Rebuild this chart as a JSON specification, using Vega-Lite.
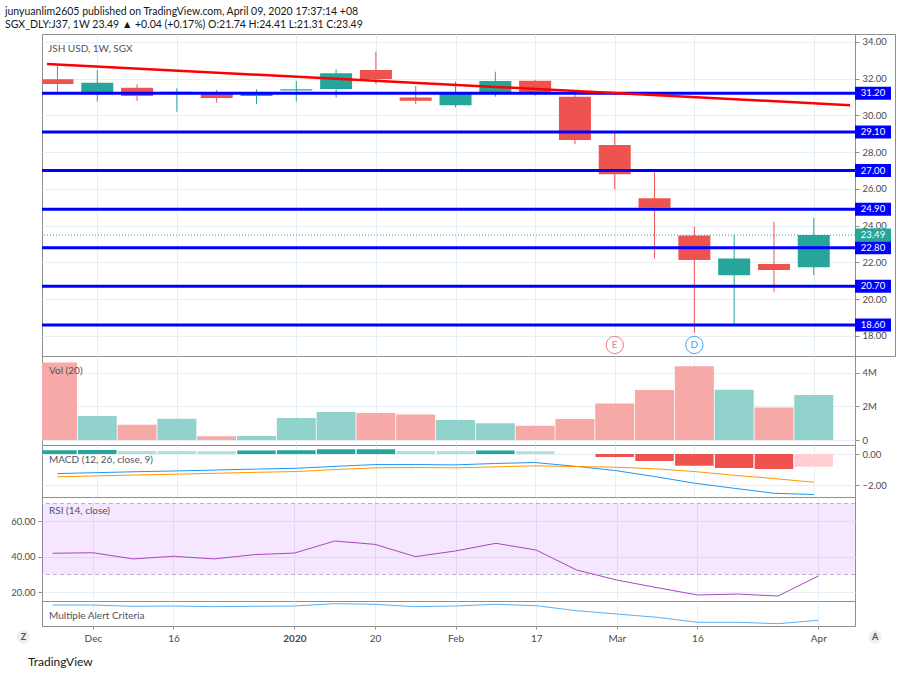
{
  "$schema": "https://vega.github.io/schema/vega-lite/v6.json",
  "padding": {"left": 5, "top": 6, "right": 5, "bottom": 0},
  "background": "white",
  "title": {
    "text": "junyuanlim2605 published on TradingView.com, April 09, 2020 17:37:14 +08",
    "subtitle": "SGX_DLY:J37, 1W 23.49 ▲ +0.04 (+0.17%) O:21.74 H:24.41 L:21.31 C:23.49",
    "anchor": "start",
    "frame": "bounds",
    "font": "Lato",
    "fontSize": 10.5,
    "fontWeight": "normal",
    "color": "#131722",
    "subtitleFont": "Lato",
    "subtitleFontSize": 10.5,
    "subtitleColor": "#131722",
    "subtitlePadding": 3,
    "offset": 3
  },
  "datasets": {
    "weekly": [
      {"date": "2019-11-25", "open": 31.97, "high": 32.75, "low": 31.28, "close": 31.71, "volume": 4600000, "macd": -1.26, "signal": -1.47, "hist": 0.24, "rsi": 42.0, "alert": 21.0},
      {"date": "2019-12-02", "open": 31.15, "high": 32.47, "low": 30.75, "close": 31.78, "volume": 1430000, "macd": -1.20, "signal": -1.41, "hist": 0.25, "rsi": 42.3, "alert": 21.0},
      {"date": "2019-12-09", "open": 31.51, "high": 31.70, "low": 30.79, "close": 31.06, "volume": 900000, "macd": -1.14, "signal": -1.35, "hist": 0.20, "rsi": 38.8, "alert": 19.7},
      {"date": "2019-12-16", "open": 31.21, "high": 31.48, "low": 30.20, "close": 31.29, "volume": 1270000, "macd": -1.09, "signal": -1.30, "hist": 0.19, "rsi": 40.3, "alert": 20.0},
      {"date": "2019-12-23", "open": 31.28, "high": 31.39, "low": 30.69, "close": 30.95, "volume": 220000, "macd": -1.03, "signal": -1.24, "hist": 0.18, "rsi": 38.8, "alert": 19.3},
      {"date": "2019-12-30", "open": 31.06, "high": 31.42, "low": 30.62, "close": 31.28, "volume": 240000, "macd": -0.97, "signal": -1.18, "hist": 0.22, "rsi": 41.2, "alert": 19.7},
      {"date": "2020-01-06", "open": 31.35, "high": 31.87, "low": 30.75, "close": 31.42, "volume": 1310000, "macd": -0.92, "signal": -1.13, "hist": 0.24, "rsi": 42.1, "alert": 20.0},
      {"date": "2020-01-13", "open": 31.44, "high": 32.51, "low": 30.97, "close": 32.29, "volume": 1670000, "macd": -0.79, "signal": -1.00, "hist": 0.30, "rsi": 48.9, "alert": 22.3},
      {"date": "2020-01-20", "open": 32.47, "high": 33.47, "low": 31.71, "close": 31.98, "volume": 1610000, "macd": -0.68, "signal": -0.89, "hist": 0.31, "rsi": 47.0, "alert": 21.7},
      {"date": "2020-01-27", "open": 30.97, "high": 31.60, "low": 30.62, "close": 30.80, "volume": 1510000, "macd": -0.68, "signal": -0.87, "hist": 0.20, "rsi": 40.1, "alert": 19.3},
      {"date": "2020-02-03", "open": 30.55, "high": 31.84, "low": 30.44, "close": 31.26, "volume": 1190000, "macd": -0.70, "signal": -0.89, "hist": 0.19, "rsi": 43.3, "alert": 20.0},
      {"date": "2020-02-10", "open": 31.21, "high": 32.38, "low": 31.02, "close": 31.87, "volume": 1000000, "macd": -0.61, "signal": -0.83, "hist": 0.23, "rsi": 47.6, "alert": 21.7},
      {"date": "2020-02-17", "open": 31.89, "high": 31.93, "low": 31.08, "close": 31.24, "volume": 850000, "macd": -0.55, "signal": -0.76, "hist": 0.18, "rsi": 43.8, "alert": 20.3},
      {"date": "2020-02-24", "open": 31.02, "high": 31.29, "low": 28.43, "close": 28.66, "volume": 1250000, "macd": -0.79, "signal": -0.81, "hist": 0.0, "rsi": 32.6, "alert": 15.3},
      {"date": "2020-03-02", "open": 28.39, "high": 29.06, "low": 25.98, "close": 26.80, "volume": 2170000, "macd": -1.06, "signal": -0.85, "hist": -0.19, "rsi": 26.9, "alert": 12.0},
      {"date": "2020-03-09", "open": 25.49, "high": 26.91, "low": 22.21, "close": 24.98, "volume": 2970000, "macd": -1.45, "signal": -0.95, "hist": -0.45, "rsi": 22.6, "alert": 8.7},
      {"date": "2020-03-16", "open": 23.46, "high": 23.95, "low": 18.16, "close": 22.14, "volume": 4380000, "macd": -1.88, "signal": -1.13, "hist": -0.75, "rsi": 18.5, "alert": 3.7},
      {"date": "2020-03-23", "open": 21.30, "high": 23.50, "low": 18.55, "close": 22.21, "volume": 2980000, "macd": -2.21, "signal": -1.37, "hist": -0.90, "rsi": 19.0, "alert": 3.7},
      {"date": "2020-03-30", "open": 21.92, "high": 24.22, "low": 20.41, "close": 21.59, "volume": 1930000, "macd": -2.53, "signal": -1.58, "hist": -0.97, "rsi": 17.9, "alert": 2.3},
      {"date": "2020-04-06", "open": 21.74, "high": 24.41, "low": 21.31, "close": 23.49, "volume": 2670000, "macd": -2.61, "signal": -1.82, "hist": -0.82, "rsi": 29.2, "alert": 5.7}
    ],
    "levels": [
      {"price": 31.2, "kind": "level"},
      {"price": 29.1, "kind": "level"},
      {"price": 27.0, "kind": "level"},
      {"price": 24.9, "kind": "level"},
      {"price": 22.8, "kind": "level"},
      {"price": 20.7, "kind": "level"},
      {"price": 18.6, "kind": "level"},
      {"price": 23.49, "kind": "last"}
    ],
    "trend": [
      {"date": "2019-11-23T03:50:00Z", "price": 32.8},
      {"date": "2020-04-12T08:53:00Z", "price": 30.56}
    ],
    "events": [
      {"date": "2020-03-02", "event": "E"},
      {"date": "2020-03-16", "event": "D"}
    ],
    "rsiBand": [{"upper": 70, "lower": 30}],
    "rsiLines": [{"level": 70}, {"level": 30}]
  },
  "columns": 3,
  "spacing": 0,
  "bounds": "flush",
  "concat": [
    {"width": 37, "height": 322, "data": {"values": [{}]}, "mark": "text", "encoding": {"text": {"value": ""}}},
    {
      "width": 813, "height": 322,
      "title": {"text": "JSH USD, 1W, SGX", "anchor": "start", "frame": "group", "offset": -28, "dx": 6, "fontSize": 10, "fontWeight": "normal", "color": "#50535e", "baseline": "alphabetic"},
      "layer": [
        {
          "data": {"name": "weekly"},
          "mark": {"type": "rule", "clip": true, "strokeWidth": 1},
          "encoding": {
            "x": {"field": "date", "type": "temporal",
              "scale": {"type": "utc", "domain": [{"year": 2019, "month": 11, "date": 23, "hours": 3, "minutes": 50, "utc": true}, {"year": 2020, "month": 4, "date": 12, "hours": 8, "minutes": 53, "utc": true}]},
              "axis": {"values": [{"year": 2019, "month": 12, "date": 2, "utc": true}, {"year": 2019, "month": 12, "date": 16, "utc": true}, {"year": 2020, "month": 1, "date": 6, "utc": true}, {"year": 2020, "month": 1, "date": 20, "utc": true}, {"year": 2020, "month": 2, "date": 3, "utc": true}, {"year": 2020, "month": 2, "date": 17, "utc": true}, {"year": 2020, "month": 3, "date": 2, "utc": true}, {"year": 2020, "month": 3, "date": 16, "utc": true}, {"year": 2020, "month": 4, "date": 6, "utc": true}], "labels": false, "ticks": false, "domain": false, "grid": true, "title": null}},
            "y": {"field": "low", "type": "quantitative", "scale": {"domain": [16.91, 34.43], "nice": false, "zero": false},
              "axis": {"orient": "right", "values": [18, 20, 22, 24, 26, 28, 30, 32, 34], "format": ".2f", "grid": true, "ticks": true, "tickSize": 4, "labelPadding": 3, "domain": false, "title": null}},
            "y2": {"field": "high"},
            "color": {"condition": {"test": "datum.close >= datum.open", "value": "#26a69a"}, "value": "#ef5350"}
          }
        },
        {
          "data": {"name": "levels"},
          "transform": [{"filter": "datum.kind == 'last'"}],
          "mark": {"type": "rule", "strokeDash": [1, 2], "strokeWidth": 1, "color": "#26a69a"},
          "encoding": {"y": {"field": "price", "type": "quantitative", "scale": {"domain": [16.91, 34.43], "nice": false, "zero": false}}}
        },
        {
          "data": {"name": "weekly"},
          "mark": {"type": "bar", "width": 32, "clip": true},
          "encoding": {
            "x": {"field": "date", "type": "temporal", "scale": {"type": "utc", "domain": [{"year": 2019, "month": 11, "date": 23, "hours": 3, "minutes": 50, "utc": true}, {"year": 2020, "month": 4, "date": 12, "hours": 8, "minutes": 53, "utc": true}]}},
            "y": {"field": "open", "type": "quantitative", "scale": {"domain": [16.91, 34.43], "nice": false, "zero": false}},
            "y2": {"field": "close"},
            "color": {"condition": {"test": "datum.close >= datum.open", "value": "#26a69a"}, "value": "#ef5350"}
          }
        },
        {
          "data": {"name": "levels"},
          "transform": [{"filter": "datum.kind == 'level'"}],
          "mark": {"type": "rule", "strokeWidth": 3, "color": "#0000ff"},
          "encoding": {"y": {"field": "price", "type": "quantitative", "scale": {"domain": [16.91, 34.43], "nice": false, "zero": false}}}
        },
        {
          "data": {"name": "trend"},
          "mark": {"type": "line", "color": "#ff0000", "strokeWidth": 2.5, "clip": true},
          "encoding": {
            "x": {"field": "date", "type": "temporal", "scale": {"type": "utc", "domain": [{"year": 2019, "month": 11, "date": 23, "hours": 3, "minutes": 50, "utc": true}, {"year": 2020, "month": 4, "date": 12, "hours": 8, "minutes": 53, "utc": true}]}},
            "y": {"field": "price", "type": "quantitative", "scale": {"domain": [16.91, 34.43], "nice": false, "zero": false}}
          }
        },
        {
          "data": {"name": "events"},
          "mark": {"type": "point", "shape": "circle", "filled": false, "fill": "white", "fillOpacity": 1, "size": 300, "strokeWidth": 1, "opacity": 1},
          "encoding": {
            "x": {"field": "date", "type": "temporal", "scale": {"type": "utc", "domain": [{"year": 2019, "month": 11, "date": 23, "hours": 3, "minutes": 50, "utc": true}, {"year": 2020, "month": 4, "date": 12, "hours": 8, "minutes": 53, "utc": true}]}},
            "y": {"datum": 17.51, "type": "quantitative", "scale": {"domain": [16.91, 34.43], "nice": false, "zero": false}},
            "stroke": {"condition": {"test": "datum.event == 'E'", "value": "#f7787c"}, "value": "#42a5f5"}
          }
        },
        {
          "data": {"name": "events"},
          "mark": {"type": "text", "fontSize": 10, "baseline": "middle", "align": "center"},
          "encoding": {
            "x": {"field": "date", "type": "temporal", "scale": {"type": "utc", "domain": [{"year": 2019, "month": 11, "date": 23, "hours": 3, "minutes": 50, "utc": true}, {"year": 2020, "month": 4, "date": 12, "hours": 8, "minutes": 53, "utc": true}]}},
            "y": {"datum": 17.51, "type": "quantitative", "scale": {"domain": [16.91, 34.43], "nice": false, "zero": false}},
            "text": {"field": "event"},
            "color": {"condition": {"test": "datum.event == 'E'", "value": "#f7787c"}, "value": "#42a5f5"}
          }
        }
      ]
    },
    {
      "width": 40, "height": 322,
      "data": {"name": "levels"},
      "layer": [
        {
          "mark": {"type": "tick", "orient": "horizontal", "size": 36, "thickness": 13, "opacity": 1, "filled": true, "xOffset": -2},
          "encoding": {
            "y": {"field": "price", "type": "quantitative", "scale": {"domain": [16.91, 34.43], "nice": false, "zero": false}, "axis": null},
            "color": {"condition": {"test": "datum.kind == 'last'", "value": "#26a69a"}, "value": "#0000ff"}
          }
        },
        {
          "mark": {"type": "text", "color": "white", "fontSize": 9.5, "dx": -2, "align": "center", "baseline": "middle"},
          "encoding": {
            "y": {"field": "price", "type": "quantitative", "scale": {"domain": [16.91, 34.43], "nice": false, "zero": false}},
            "text": {"field": "price", "type": "quantitative", "format": ".2f"}
          }
        }
      ]
    },

    {"width": 37, "height": 89, "data": {"values": [{}]}, "mark": "text", "encoding": {"text": {"value": ""}}},
    {
      "width": 813, "height": 89,
      "title": {"text": "Vol (20)", "anchor": "start", "frame": "group", "offset": -28, "dx": 7, "fontSize": 10, "fontWeight": "normal", "color": "#50535e", "baseline": "alphabetic"},
      "data": {"name": "weekly"},
      "mark": {"type": "bar", "width": 39, "clip": true},
      "encoding": {
        "x": {"field": "date", "type": "temporal",
          "scale": {"type": "utc", "domain": [{"year": 2019, "month": 11, "date": 23, "hours": 3, "minutes": 50, "utc": true}, {"year": 2020, "month": 4, "date": 12, "hours": 8, "minutes": 53, "utc": true}]},
          "axis": {"values": [{"year": 2019, "month": 12, "date": 2, "utc": true}, {"year": 2019, "month": 12, "date": 16, "utc": true}, {"year": 2020, "month": 1, "date": 6, "utc": true}, {"year": 2020, "month": 1, "date": 20, "utc": true}, {"year": 2020, "month": 2, "date": 3, "utc": true}, {"year": 2020, "month": 2, "date": 17, "utc": true}, {"year": 2020, "month": 3, "date": 2, "utc": true}, {"year": 2020, "month": 3, "date": 16, "utc": true}, {"year": 2020, "month": 4, "date": 6, "utc": true}], "labels": false, "ticks": false, "domain": false, "grid": true, "title": null}},
        "y": {"field": "volume", "type": "quantitative", "scale": {"domain": [-297000, 4991000], "nice": false, "zero": false},
          "axis": {"orient": "right", "values": [0, 2000000, 4000000], "labelExpr": "datum.value == 0 ? '0' : (datum.value / 1000000) + 'M'", "grid": true, "tickSize": 4, "labelPadding": 3, "domain": false, "title": null}},
        "color": {"condition": {"test": "datum.close >= datum.open", "value": "#92d2cc"}, "value": "#f7a9a7"}
      }
    },
    {"width": 40, "height": 89, "data": {"values": [{}]}, "mark": "text", "encoding": {"text": {"value": ""}}},

    {"width": 37, "height": 52, "data": {"values": [{}]}, "mark": "text", "encoding": {"text": {"value": ""}}},
    {
      "width": 813, "height": 52,
      "title": {"text": "MACD (12, 26, close, 9)", "anchor": "start", "frame": "group", "offset": -28, "dx": 7, "fontSize": 10, "fontWeight": "normal", "color": "#50535e", "baseline": "alphabetic"},
      "data": {"name": "weekly"},
      "layer": [
        {
          "transform": [{"window": [{"op": "lag", "field": "hist", "as": "prevHist"}], "sort": [{"field": "date"}]}],
          "mark": {"type": "bar", "width": 38.5, "clip": true},
          "encoding": {
            "x": {"field": "date", "type": "temporal",
              "scale": {"type": "utc", "domain": [{"year": 2019, "month": 11, "date": 23, "hours": 3, "minutes": 50, "utc": true}, {"year": 2020, "month": 4, "date": 12, "hours": 8, "minutes": 53, "utc": true}]},
              "axis": {"values": [{"year": 2019, "month": 12, "date": 2, "utc": true}, {"year": 2019, "month": 12, "date": 16, "utc": true}, {"year": 2020, "month": 1, "date": 6, "utc": true}, {"year": 2020, "month": 1, "date": 20, "utc": true}, {"year": 2020, "month": 2, "date": 3, "utc": true}, {"year": 2020, "month": 2, "date": 17, "utc": true}, {"year": 2020, "month": 3, "date": 2, "utc": true}, {"year": 2020, "month": 3, "date": 16, "utc": true}, {"year": 2020, "month": 4, "date": 6, "utc": true}], "labels": false, "ticks": false, "domain": false, "grid": true, "title": null}},
            "y": {"field": "hist", "type": "quantitative", "scale": {"domain": [-2.77, 0.58], "nice": false, "zero": false},
              "axis": {"orient": "right", "values": [0, -2], "format": ".2f", "grid": true, "tickSize": 4, "labelPadding": 3, "domain": false, "title": null}},
            "color": {
              "condition": [
                {"test": "datum.hist >= 0 && (datum.prevHist == null || datum.hist >= datum.prevHist)", "value": "#26a69a"},
                {"test": "datum.hist >= 0", "value": "#b2dfdb"},
                {"test": "datum.hist < datum.prevHist", "value": "#ef5350"}
              ],
              "value": "#ffcdd2"
            }
          }
        },
        {
          "mark": {"type": "line", "color": "#2196f3", "strokeWidth": 1, "clip": true},
          "encoding": {
            "x": {"field": "date", "type": "temporal", "scale": {"type": "utc", "domain": [{"year": 2019, "month": 11, "date": 23, "hours": 3, "minutes": 50, "utc": true}, {"year": 2020, "month": 4, "date": 12, "hours": 8, "minutes": 53, "utc": true}]}},
            "y": {"field": "macd", "type": "quantitative", "scale": {"domain": [-2.77, 0.58], "nice": false, "zero": false}}
          }
        },
        {
          "mark": {"type": "line", "color": "#ff9800", "strokeWidth": 1, "clip": true},
          "encoding": {
            "x": {"field": "date", "type": "temporal", "scale": {"type": "utc", "domain": [{"year": 2019, "month": 11, "date": 23, "hours": 3, "minutes": 50, "utc": true}, {"year": 2020, "month": 4, "date": 12, "hours": 8, "minutes": 53, "utc": true}]}},
            "y": {"field": "signal", "type": "quantitative", "scale": {"domain": [-2.77, 0.58], "nice": false, "zero": false}}
          }
        }
      ]
    },
    {"width": 40, "height": 52, "data": {"values": [{}]}, "mark": "text", "encoding": {"text": {"value": ""}}},

    {"width": 37, "height": 104, "data": {"values": [{}]}, "mark": "text", "encoding": {"text": {"value": ""}}},
    {
      "width": 813, "height": 104,
      "title": {"text": "RSI (14, close)", "anchor": "start", "frame": "group", "offset": -27, "dx": 7, "fontSize": 10, "fontWeight": "normal", "color": "#50535e", "baseline": "alphabetic"},
      "layer": [
        {
          "data": {"name": "rsiBand"},
          "mark": {"type": "rect", "color": "#9915ff", "opacity": 0.1},
          "encoding": {
            "y": {"field": "upper", "type": "quantitative", "scale": {"domain": [15.1, 73.69], "nice": false, "zero": false}},
            "y2": {"field": "lower"}
          }
        },
        {
          "data": {"name": "rsiLines"},
          "mark": {"type": "rule", "strokeDash": [4, 3], "color": "#b2b5be", "strokeWidth": 1},
          "encoding": {"y": {"field": "level", "type": "quantitative", "scale": {"domain": [15.1, 73.69], "nice": false, "zero": false}}}
        },
        {
          "data": {"name": "weekly"},
          "mark": {"type": "line", "color": "#ab47bc", "strokeWidth": 1, "clip": true},
          "encoding": {
            "x": {"field": "date", "type": "temporal",
              "scale": {"type": "utc", "domain": [{"year": 2019, "month": 11, "date": 23, "hours": 3, "minutes": 50, "utc": true}, {"year": 2020, "month": 4, "date": 12, "hours": 8, "minutes": 53, "utc": true}]},
              "axis": {"values": [{"year": 2019, "month": 12, "date": 2, "utc": true}, {"year": 2019, "month": 12, "date": 16, "utc": true}, {"year": 2020, "month": 1, "date": 6, "utc": true}, {"year": 2020, "month": 1, "date": 20, "utc": true}, {"year": 2020, "month": 2, "date": 3, "utc": true}, {"year": 2020, "month": 2, "date": 17, "utc": true}, {"year": 2020, "month": 3, "date": 2, "utc": true}, {"year": 2020, "month": 3, "date": 16, "utc": true}, {"year": 2020, "month": 4, "date": 6, "utc": true}], "labels": false, "ticks": false, "domain": false, "grid": true, "title": null}},
            "y": {"field": "rsi", "type": "quantitative", "scale": {"domain": [15.1, 73.69], "nice": false, "zero": false},
              "axis": {"orient": "left", "values": [20, 40, 60], "format": ".2f", "grid": true, "tickSize": 4, "labelPadding": 3, "domain": false, "title": null}}
          }
        }
      ]
    },
    {"width": 40, "height": 104, "data": {"values": [{}]}, "mark": "text", "encoding": {"text": {"value": ""}}},

    {"width": 37, "height": 25, "data": {"values": [{}]}, "mark": "text", "encoding": {"text": {"value": ""}}},
    {
      "width": 813, "height": 25,
      "title": {"text": "Multiple Alert Criteria", "anchor": "start", "frame": "group", "offset": -28, "dx": 7, "fontSize": 10, "fontWeight": "normal", "color": "#50535e", "baseline": "alphabetic"},
      "data": {"name": "weekly"},
      "mark": {"type": "line", "color": "#5ab0f5", "strokeWidth": 1, "clip": true},
      "encoding": {
        "x": {"field": "date", "type": "temporal",
          "scale": {"type": "utc", "domain": [{"year": 2019, "month": 11, "date": 23, "hours": 3, "minutes": 50, "utc": true}, {"year": 2020, "month": 4, "date": 12, "hours": 8, "minutes": 53, "utc": true}]},
          "axis": {"values": [{"year": 2019, "month": 12, "date": 2, "utc": true}, {"year": 2019, "month": 12, "date": 16, "utc": true}, {"year": 2020, "month": 1, "date": 6, "utc": true}, {"year": 2020, "month": 1, "date": 20, "utc": true}, {"year": 2020, "month": 2, "date": 3, "utc": true}, {"year": 2020, "month": 2, "date": 17, "utc": true}, {"year": 2020, "month": 3, "date": 2, "utc": true}, {"year": 2020, "month": 3, "date": 16, "utc": true}, {"year": 2020, "month": 4, "date": 6, "utc": true}],
            "labelExpr": "utcdate(datum.value) <= 7 ? (utcmonth(datum.value) == 0 ? utcFormat(datum.value, '%Y') : utcFormat(datum.value, '%b')) : utcFormat(datum.value, '%-d')",
            "labelFontWeight": {"condition": {"test": "utcmonth(datum.value) == 0 && utcdate(datum.value) <= 7", "value": "bold"}, "value": "normal"},
            "labelFontSize": 10, "labelColor": "#4a4a4a", "labelPadding": 4, "tickSize": 3, "ticks": true, "domain": false, "grid": true, "title": null}},
        "y": {"field": "alert", "type": "quantitative", "scale": {"domain": [0, 25], "nice": false, "zero": false}, "axis": null}
      }
    },
    {"width": 40, "height": 25, "data": {"values": [{}]}, "mark": "text", "encoding": {"text": {"value": ""}}},

    {
      "width": 37, "height": 22,
      "title": {"text": "TradingView", "orient": "bottom", "anchor": "start", "frame": "group", "offset": 18, "dx": 23, "fontSize": 12, "fontWeight": "normal", "color": "#131722", "baseline": "alphabetic"},
      "data": {"values": [{"key": "Z"}]},
      "layer": [
        {"mark": {"type": "point", "shape": "circle", "filled": true, "size": 180, "color": "#eceef2", "opacity": 1}, "encoding": {}},
        {"mark": {"type": "text", "fontSize": 9, "fontWeight": "bold", "color": "#555555", "baseline": "middle", "align": "center"}, "encoding": {"text": {"field": "key"}}}
      ]
    },
    {"width": 813, "height": 22, "data": {"values": [{}]}, "mark": "text", "encoding": {"text": {"value": ""}}},
    {
      "width": 40, "height": 22,
      "data": {"values": [{"key": "A"}]},
      "layer": [
        {"mark": {"type": "point", "shape": "circle", "filled": true, "size": 180, "color": "#eceef2", "opacity": 1}, "encoding": {}},
        {"mark": {"type": "text", "fontSize": 9, "fontWeight": "bold", "color": "#555555", "baseline": "middle", "align": "center"}, "encoding": {"text": {"field": "key"}}}
      ]
    }
  ],
  "config": {
    "font": "Lato",
    "view": {"stroke": "#8f8f8f", "strokeWidth": 1},
    "axis": {"labelFont": "Lato", "labelFontSize": 9.5, "labelColor": "#4a4a4a", "gridColor": "#e6eef6", "tickColor": "#8f8f8f", "domain": false},
    "title": {"font": "Lato"}
  }
}
